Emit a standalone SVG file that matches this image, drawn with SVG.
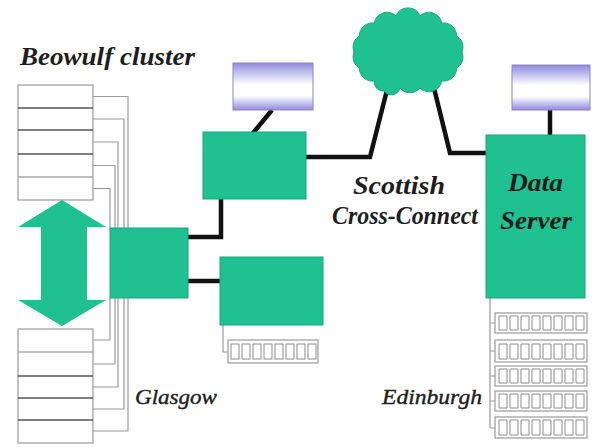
<svg xmlns="http://www.w3.org/2000/svg" width="597" height="447" viewBox="0 0 597 447">
<defs>
<linearGradient id="mon" x1="0" y1="0" x2="0" y2="1">
<stop offset="0" stop-color="#8f8ade"/>
<stop offset="0.45" stop-color="#ffffff"/>
<stop offset="0.7" stop-color="#ffffff"/>
<stop offset="1" stop-color="#8f8ade"/>
</linearGradient>
<style>
.teal{fill:#1ec18f;stroke:#17a87c;stroke-width:1}
.mon{fill:url(#mon);stroke:#8a86c8;stroke-width:1}
.thick{fill:none;stroke:#111;stroke-width:4.5;stroke-linejoin:miter}
.wire{fill:none;stroke:#9a9a9a;stroke-width:1.2}
.frame{fill:#fff;stroke:#9a9a9a;stroke-width:1.2}
.sep{stroke:#555;stroke-width:1.6}
.sepl{stroke:#aaa;stroke-width:1.4}
.cell{fill:#fff;stroke:#8c8c8c;stroke-width:1}
.lbl{font-family:"Liberation Serif","DejaVu Serif",serif;font-style:italic;font-weight:bold;fill:#1e1e1e}
.lbln{font-family:"Liberation Serif","DejaVu Serif",serif;font-style:italic;font-weight:normal;fill:#1e1e1e;stroke:#1e1e1e;stroke-width:0.4}
</style>
</defs>
<rect width="597" height="447" fill="#ffffff"/>

<g id="connectors">
<path class="wire" d="M93,96.5 H128 V228 M93,119 H124 V228 M93,142 H118 V228 M93,165.5 H115 V228 M93,188.5 H110 V228"/>
<path class="wire" d="M93,340 H110 V298 M93,364 H115 V298 M93,387 H118 V298 M93,409 H124 V298 M93,431 H128 V298"/>
<path class="thick" d="M188,237 H221 V199"/>
<path class="thick" d="M188,281 H220"/>
<path class="thick" d="M272,110 L253,133"/>
<path class="thick" d="M305,157 H370 L387,90"/>
<path class="thick" d="M432,80 L450,153 H486"/>
<path class="thick" d="M550,110 V136"/>
<path class="wire" d="M223,325 V352 H228"/>
<path class="wire" d="M490,298 V428 M490,323 H495 M490,351 H495 M490,376 H495 M490,401 H495 M490,428 H495"/>
</g>

<g id="beowulf-top">
<rect class="frame" x="18" y="85" width="75" height="115"/>
<line class="sep" x1="18" y1="108" x2="93" y2="108"/>
<line class="sep" x1="18" y1="130" x2="93" y2="130"/>
<line class="sep" x1="18" y1="154" x2="93" y2="154"/>
<line class="sepl" x1="18" y1="177" x2="93" y2="177"/>
</g>

<g id="beowulf-bottom">
<rect class="frame" x="18" y="329" width="75" height="114"/>
<line class="sepl" x1="18" y1="352" x2="93" y2="352"/>
<line class="sep" x1="18" y1="376" x2="93" y2="376"/>
<line class="sep" x1="18" y1="398" x2="93" y2="398"/>
<line class="sep" x1="18" y1="420" x2="93" y2="420"/>
</g>

<g id="arrow">
<path fill="#1ec18f" d="M62,200 L106,227 H87 V300 H106 L62,326 L18,300 H41 V227 H18 Z"/>
</g>

<g id="hub">
<rect class="teal" x="110" y="228" width="78" height="70"/>
</g>

<g id="router">
<rect class="teal" x="203" y="132" width="103" height="67"/>
</g>

<g id="monitor-glasgow">
<rect class="mon" x="233" y="63" width="80" height="47"/>
</g>

<g id="storage-glasgow">
<rect class="teal" x="220" y="257" width="103" height="68"/>
</g>

<g id="disks-glasgow">
<rect class="frame" x="228" y="340" width="90" height="23"/>
<rect class="cell" x="231" y="344" width="8" height="15"/>
<rect class="cell" x="242" y="344" width="8" height="15"/>
<rect class="cell" x="253" y="344" width="8" height="15"/>
<rect class="cell" x="264" y="344" width="8" height="15"/>
<rect class="cell" x="275" y="344" width="8" height="15"/>
<rect class="cell" x="286" y="344" width="8" height="15"/>
<rect class="cell" x="297" y="344" width="8" height="15"/>
<rect class="cell" x="308" y="344" width="8" height="15"/>
</g>

<g id="cloud">
<path fill="#1ec18f" stroke="#17a87c" stroke-width="1" d="M354,52 A13,13 0 0,1 359.3,35.9 A13,13 0 0,1 374.3,23.1 A13,13 0 0,1 396,15.9 A13,13 0 0,1 420,15.9 A13,13 0 0,1 441.7,23.1 A13,13 0 0,1 456.7,35.9 A13,13 0 0,1 462,52 A13,13 0 0,1 456.7,68.1 A13,13 0 0,1 441.7,80.9 A13,13 0 0,1 420,88.1 A13,13 0 0,1 400,88 A9,9 0 0,1 384,91 A9,9 0 0,1 374.3,80.9 A13,13 0 0,1 359.3,68.1 A13,13 0 0,1 354,52 Z"/>
</g>

<g id="data-server">
<rect class="teal" x="486" y="135" width="99" height="163"/>
<text class="lbl" x="508" y="191" font-size="25" textLength="55" lengthAdjust="spacingAndGlyphs">Data</text>
<text class="lbl" x="500" y="229" font-size="25" textLength="72" lengthAdjust="spacingAndGlyphs">Server</text>
</g>

<g id="monitor-edinburgh">
<rect class="mon" x="512" y="65" width="78" height="45"/>
</g>

<g id="disks-edinburgh">
<rect class="frame" x="495" y="313" width="92" height="20"/>
<rect class="frame" x="495" y="340" width="92" height="22"/>
<rect class="frame" x="495" y="366" width="92" height="20"/>
<rect class="frame" x="495" y="391" width="92" height="20"/>
<rect class="frame" x="495" y="417" width="92" height="21"/>
<g fill="#fff" stroke="#8c8c8c" stroke-width="1">
<path d="M499,316h8v14h-8z M510,316h8v14h-8z M521,316h8v14h-8z M532,316h8v14h-8z M543,316h8v14h-8z M554,316h8v14h-8z M565,316h8v14h-8z M576,316h8v14h-8z"/>
<path d="M499,344h8v15h-8z M510,344h8v15h-8z M521,344h8v15h-8z M532,344h8v15h-8z M543,344h8v15h-8z M554,344h8v15h-8z M565,344h8v15h-8z M576,344h8v15h-8z"/>
<path d="M499,369h8v14h-8z M510,369h8v14h-8z M521,369h8v14h-8z M532,369h8v14h-8z M543,369h8v14h-8z M554,369h8v14h-8z M565,369h8v14h-8z M576,369h8v14h-8z"/>
<path d="M499,394h8v14h-8z M510,394h8v14h-8z M521,394h8v14h-8z M532,394h8v14h-8z M543,394h8v14h-8z M554,394h8v14h-8z M565,394h8v14h-8z M576,394h8v14h-8z"/>
<path d="M499,420h8v15h-8z M510,420h8v15h-8z M521,420h8v15h-8z M532,420h8v15h-8z M543,420h8v15h-8z M554,420h8v15h-8z M565,420h8v15h-8z M576,420h8v15h-8z"/>
</g>
</g>

<g id="labels">
<text class="lbl" x="20" y="65" font-size="25" textLength="175" lengthAdjust="spacingAndGlyphs">Beowulf cluster</text>
<text class="lbl" x="353" y="194" font-size="25" textLength="92" lengthAdjust="spacingAndGlyphs">Scottish</text>
<text class="lbl" x="332" y="224" font-size="25" textLength="146" lengthAdjust="spacingAndGlyphs">Cross-Connect</text>
<text class="lbln" x="135" y="404" font-size="22" textLength="82" lengthAdjust="spacingAndGlyphs">Glasgow</text>
<text class="lbln" x="382" y="404" font-size="22" textLength="100" lengthAdjust="spacingAndGlyphs">Edinburgh</text>
</g>
</svg>
